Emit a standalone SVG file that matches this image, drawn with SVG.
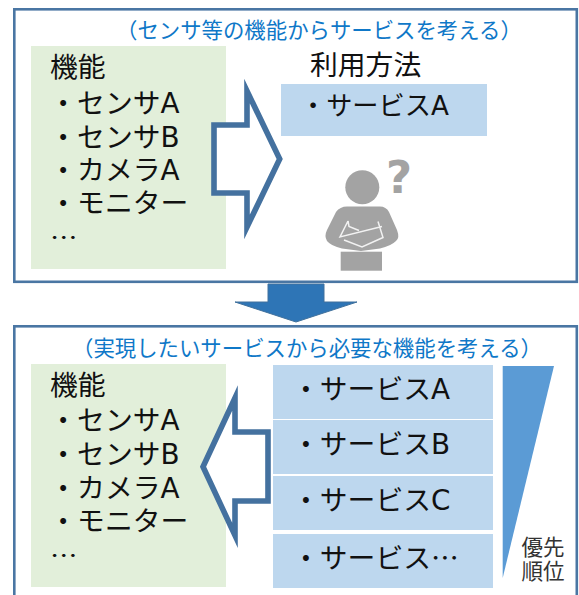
<svg xmlns="http://www.w3.org/2000/svg" width="579" height="595" viewBox="0 0 579 595">
<style>
text{font-family:"DejaVu Sans","Noto Sans CJK JP",sans-serif;fill:#111}
.t{font-size:27.8px}
.u{font-size:26.2px}
.c{font-size:21.4px;fill:#0f78c8;font-family:"Noto Sans CJK JP",sans-serif}
.s{font-size:21.5px;fill:#333}
.e{font-size:22.5px;font-family:"Noto Sans CJK JP",sans-serif}
.frame{fill:#fff;stroke:#4a76a3;stroke-width:2.6}
.green{fill:#e2efda}
.blue{fill:#bdd7ee}
.arrow{fill:#fff;stroke:#44719f;stroke-width:5.6;stroke-miterlimit:12}
.g{fill:#a3a3a3}
.w{fill:none;stroke:#f2f2f2;stroke-width:1.5}
</style>
<rect width="579" height="595" fill="#fff"/>
<g id="panel-top">
<rect class="frame" x="14.3" y="9.3" width="562.5" height="272.5"/>
<text class="c" x="116" y="37.500">（センサ等の機能からサービスを考える）</text>
</g>
<g id="panel-bottom">
<rect class="frame" x="14.3" y="326.3" width="562.5" height="280"/>
<text class="c" x="72" y="356">（実現したいサービスから必要な機能を考える）</text>
</g>
<g id="functions-top">
<rect class="green" x="31" y="46" width="195" height="223"/>
<text class="t" x="50" y="77">機能<tspan x="49.300" y="113">・センサA</tspan><tspan x="49.300" y="147">・センサB</tspan><tspan x="49.300" y="180">・カメラA</tspan><tspan x="49.300" y="213">・モニター</tspan></text>
<text class="e" x="50" y="245.700" textLength="27.500" lengthAdjust="spacingAndGlyphs">…</text>
</g>
<g id="usage">
<text class="t" x="310" y="75">利用方法</text>
<rect class="blue" x="281" y="84" width="206" height="52"/>
<text class="u" x="300" y="115">・サービスA</text>
</g>
<g id="person">
<circle class="g" cx="362.3" cy="187.3" r="17"/>
<path class="g" d="M347 206.500H380Q386 206.500 389 212L397 230Q400 238 396 241Q391 246 380 248.500L361 251L342 248.500Q331 246 327 241Q324 236 327 230L336 212Q340 206.500 347 206.500Z"/>
<rect class="g" x="340.700" y="251.700" width="41.300" height="19"/>
<path class="w" d="M348 221L340 237L382 226.500M348 221L349 226.500L359 230.500M378 221.500L383 237.500L362 247L344 240"/>
<text x="386" y="193" font-size="45" font-weight="700" style="fill:#a3a3a3">?</text>
</g>
<g id="functions-bottom">
<rect class="green" x="31" y="364" width="195" height="223"/>
<text class="t" x="50" y="395">機能<tspan x="49.300" y="430">・センサA</tspan><tspan x="49.300" y="464">・センサB</tspan><tspan x="49.300" y="498">・カメラA</tspan><tspan x="49.300" y="531">・モニター</tspan></text>
<text class="e" x="50" y="563.700" textLength="27.500" lengthAdjust="spacingAndGlyphs">…</text>
</g>
<g id="services">
<rect class="blue" x="273" y="365" width="220" height="54"/>
<rect class="blue" x="273" y="420" width="220" height="54"/>
<rect class="blue" x="273" y="476" width="220" height="54"/>
<rect class="blue" x="273" y="534" width="220" height="54"/>
<text class="t" x="292" y="399">・サービスA</text>
<text class="t" x="292" y="454">・サービスB</text>
<text class="t" x="292" y="510">・サービスC</text>
<text class="t" x="292" y="568">・サービス<tspan style="font-family:'Noto Sans CJK JP',sans-serif">…</tspan></text>
</g>
<g id="priority">
<path fill="#5b9bd5" d="M502.700 366H554L502.700 578Z"/>
<text class="s" x="521.500" y="555">優先</text>
<text class="s" x="521.500" y="579">順位</text>
</g>
<g id="connectors">
<path class="arrow" d="M214 125H247V91L279.700 159L247 227V193H214Z"/>
<path class="arrow" d="M268 432H235V398L203 466.700L235 535.400V501H268Z"/>
<path fill="#2e75b6" stroke="#41719c" stroke-width="1" d="M268 284H324V302H357L296 322L235 302H268Z"/>
</g>
</svg>
